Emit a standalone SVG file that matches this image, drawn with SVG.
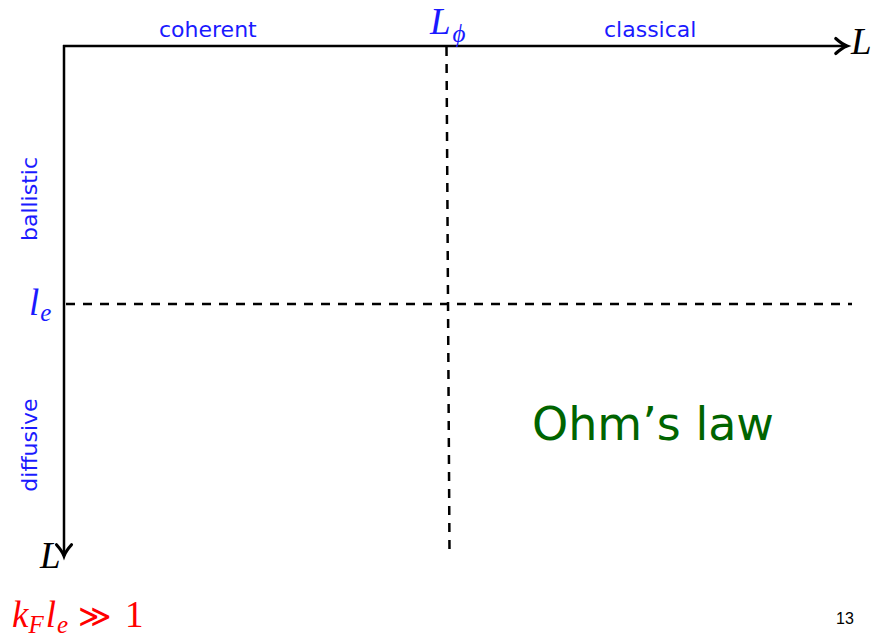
<svg xmlns="http://www.w3.org/2000/svg" width="877" height="637" viewBox="0 0 877 637">
<defs>
<style>
.axis{stroke:#000;stroke-width:2.5;fill:none}
.dash{stroke:#000;stroke-width:2.5;fill:none;stroke-dasharray:9 8}
.lbl{font-family:"DejaVu Sans",Verdana,sans-serif;font-size:22px;fill:#1a1aff}
.math{font-family:"Liberation Serif","DejaVu Serif",serif;font-style:italic}
.blue{fill:#1a1aff}
.red{fill:#ff0000}
</style>
<marker id="arr" markerUnits="userSpaceOnUse" markerWidth="20" markerHeight="20" refX="0" refY="0" viewBox="-12 -8 14 16" orient="auto" overflow="visible">
<path d="M -9,-6 Q -4,-1.5 0,0 Q -4,1.5 -9,6" stroke="#000" stroke-width="2.5" fill="none" stroke-linecap="round"/>
</marker>
</defs>
<rect width="877" height="637" fill="#fff"/>
<g id="connectors">
<line class="axis" x1="63" y1="46" x2="847" y2="46" marker-end="url(#arr)"/>
<line class="axis" x1="64" y1="45" x2="64" y2="556" marker-end="url(#arr)"/>
<line class="dash" x1="66" y1="304" x2="852" y2="304"/>
<line class="dash" x1="446.5" y1="47" x2="449.5" y2="553"/>
</g>
<g id="axis-labels">
<text class="lbl" x="159" y="37">coherent</text>
<text class="lbl" x="604" y="37">classical</text>
<text class="lbl" transform="translate(37,199) rotate(-90)" text-anchor="middle">ballistic</text>
<text class="lbl" transform="translate(37,445) rotate(-90)" text-anchor="middle">diffusive</text>
</g>
<g id="L-phi">
<text class="math blue" x="430" y="34" font-size="37">L<tspan font-size="25" dy="8" dx="2">ϕ</tspan></text>
</g>
<g id="L-right">
<text class="math" x="851" y="54" font-size="37">L</text>
</g>
<g id="l-e">
<text class="math blue" x="29" y="315" font-size="37">l<tspan font-size="25" dy="6" dx="1">e</tspan></text>
</g>
<g id="L-bottom">
<text class="math" x="40" y="568" font-size="37">L</text>
</g>
<g id="condition">
<text class="math red" x="12" y="627" font-size="37">k<tspan font-size="25" dy="6">F</tspan><tspan dy="-6" dx="2">l</tspan><tspan font-size="25" dy="6" dx="1">e</tspan><tspan dy="-6" dx="10" font-style="normal" font-family="'DejaVu Sans',sans-serif" font-weight="200" font-size="32">≫</tspan><tspan dx="13" font-style="normal">1</tspan></text>
</g>
<g id="ohms-law">
<text x="532" y="440" font-family="'DejaVu Sans',Verdana,sans-serif" font-size="46" fill="#006400">Ohm’s law</text>
</g>
<g id="page-number">
<text x="836" y="624" font-family="'Liberation Sans',Arial,sans-serif" font-size="16" fill="#000">13</text>
</g>
</svg>
